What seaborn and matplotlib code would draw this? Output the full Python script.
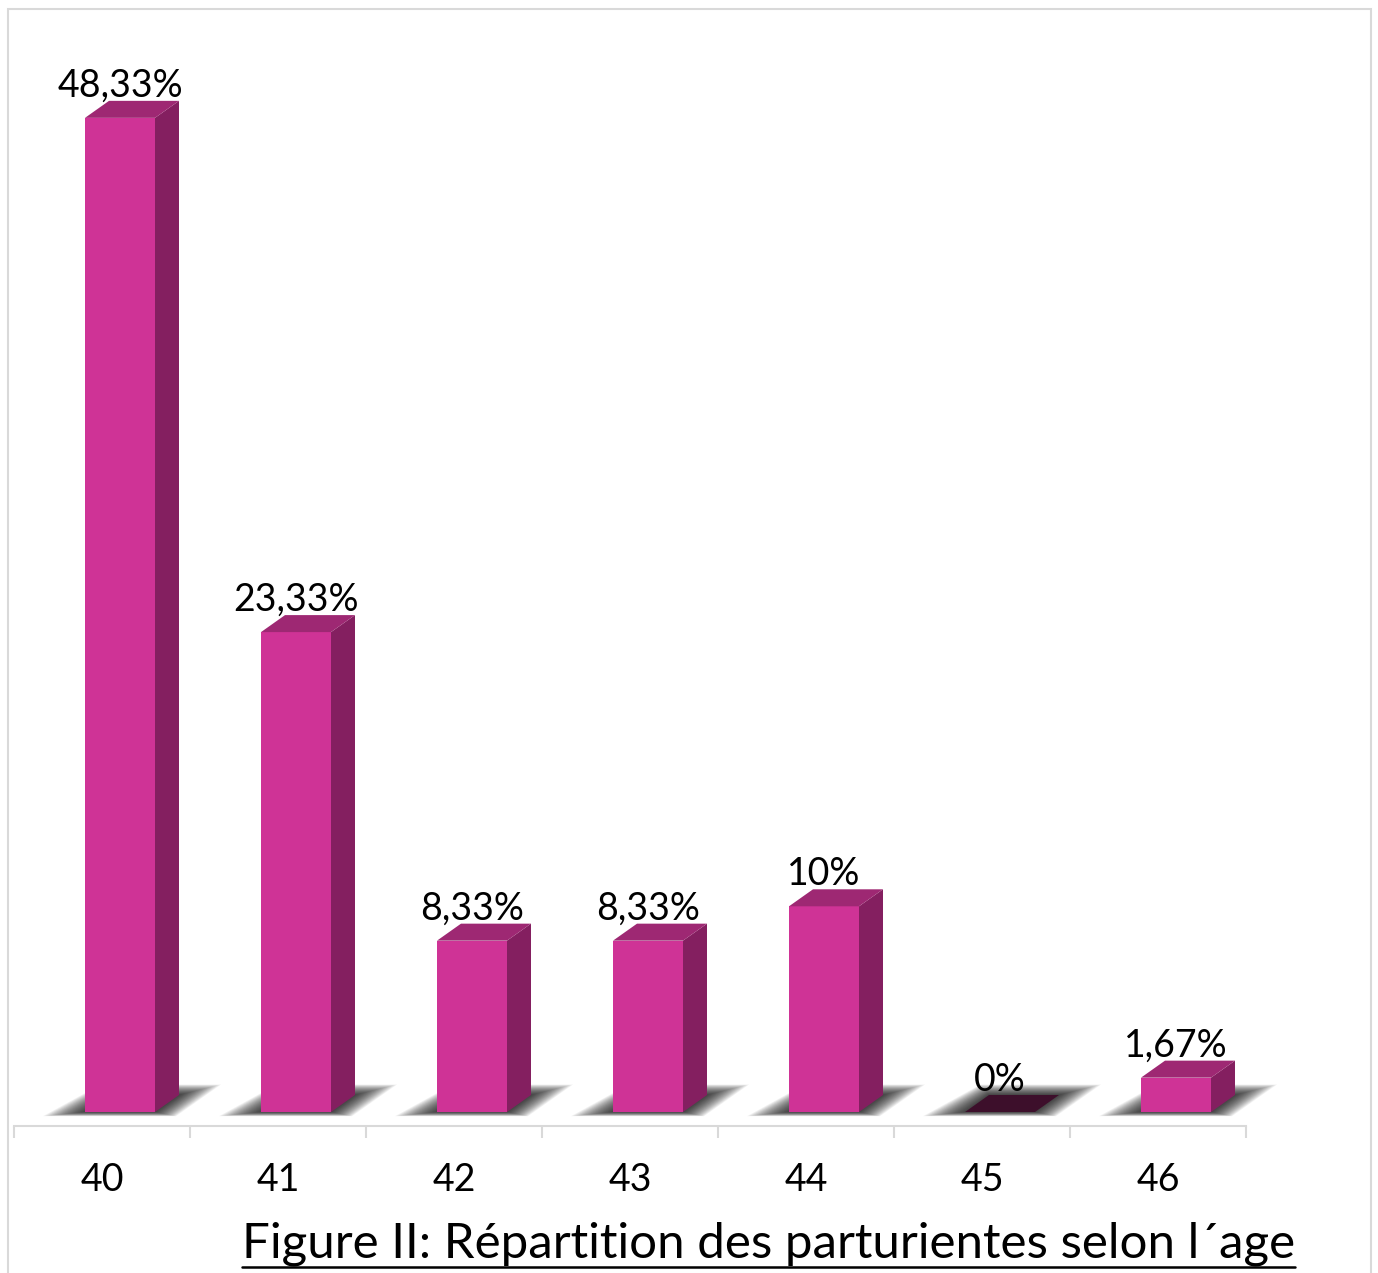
import numpy as np
import pandas as pd
import matplotlib
matplotlib.use("Agg")
import matplotlib.pyplot as plt
import seaborn as sns
from matplotlib.patches import Polygon, Rectangle
from matplotlib.lines import Line2D

# ---- data ----
ages = ["40", "41", "42", "43", "44", "45", "46"]
percents = [48.33, 23.33, 8.33, 8.33, 10.0, 0.0, 1.67]
value_labels = ["48,33%", "23,33%", "8,33%", "8,33%", "10%", "0%", "1,67%"]
title = "Figure II: Répartition des parturientes selon l´age"

# ---- style ----
FRONT = "#CF3396"
SIDE = "#841F60"
TOP = "#9E2873"
ZERO = "#3D0F2B"
GRID = "#D9D9D9"

sns.set_theme(style="white")
plt.rcParams['font.family'] = ['Lato', 'DejaVu Sans']

W, H = 1378, 1273
fig = plt.figure(figsize=(W / 100, H / 100), dpi=100)
ax_left, ax_right = 14, 1246
ax_top, ax_bot = 60, 1126
base_px = 1112
ax = fig.add_axes([ax_left / W, (H - ax_bot) / H, (ax_right - ax_left) / W, (ax_bot - ax_top) / H])

df = pd.DataFrame({"age": ages, "pct": percents})
cat_px = (ax_right - ax_left) / len(ages)
px_per_pct = 20.57
sx = 1.0 / cat_px
sy = 1.0 / px_per_pct

sns.barplot(data=df, x="age", y="pct", color=FRONT, saturation=1,
            width=70 / cat_px, ax=ax, zorder=4, edgecolor="none", linewidth=0)

ax.set_xlim(-0.5, len(ages) - 0.5)
ax.set_ylim(-(ax_bot - base_px) * sy, (base_px - ax_top) * sy)

off = 18 * sx
dx = 24 * sx
dy = 17 * sy

for i, p in enumerate(ax.patches):
    p.set_x(p.get_x() + off)
    x0 = p.get_x()
    w = p.get_width()
    h = p.get_height()
    # soft shadow (layered, blurred footprint)
    for e in np.arange(42, 0, -2):
        ev = e * 0.25
        pts = [(x0 - e * sx, -ev * 0.4 * sy), (x0 + w + e * sx * 0.5, -ev * 0.4 * sy),
               (x0 + w + dx + e * sx, dy + ev * sy), (x0 + dx - e * sx * 0.2, dy + ev * sy)]
        ax.add_patch(Polygon(pts, closed=True, fc="black", ec="none", alpha=0.055,
                             zorder=2, clip_on=False))
    # side face
    if h > 0:
        side = [(x0 + w, 0), (x0 + w + dx, dy), (x0 + w + dx, h + dy), (x0 + w, h)]
        ax.add_patch(Polygon(side, closed=True, fc=SIDE, ec="none", zorder=4, clip_on=False))
    topc = TOP if h > 0 else ZERO
    top = [(x0, h), (x0 + w, h), (x0 + w + dx, h + dy), (x0 + dx, h + dy)]
    ax.add_patch(Polygon(top, closed=True, fc=topc, ec="none", zorder=4, clip_on=False))
    ax.text(x0 + w / 2, h + dy + 4 * sy, value_labels[i], ha="center", va="baseline",
            fontsize=27, color="black", zorder=5)

# axes styling
for s in ["left", "right", "top"]:
    ax.spines[s].set_visible(False)
ax.spines["bottom"].set_color(GRID)
ax.spines["bottom"].set_linewidth(1.5)
ax.set_yticks([])
ax.set_xlabel("")
ax.set_ylabel("")
ax.set_xticks(np.arange(-0.5, len(ages) + 0.5, 1.0), minor=True)
ax.tick_params(axis="x", which="major", bottom=True, length=0, pad=26,
               labelsize=27, labelcolor="black")
ax.tick_params(axis="x", which="minor", bottom=True, length=8.6, width=1.5,
               color=GRID, direction="out")
ax.grid(False)
ax.patch.set_alpha(0)

# outer border
fig.patches.append(Rectangle((8 / W, -0.02), (1371 - 8) / W, (H - 9) / H + 0.02,
                             transform=fig.transFigure, fill=False, ec=GRID, lw=1.5, zorder=0))

# underlined caption
t = fig.text((242 + 1295) / 2 / W, (H - 1257) / H, title, ha="center", va="baseline",
             fontsize=35.5, color="black")
fig.canvas.draw()
bb = t.get_window_extent(renderer=fig.canvas.get_renderer())
uy = (H - 1267) / H
fig.add_artist(Line2D([bb.x0 / W, bb.x1 / W], [uy, uy], transform=fig.transFigure,
                      color="black", lw=1.8))

fig.savefig("out.png", dpi=100)
